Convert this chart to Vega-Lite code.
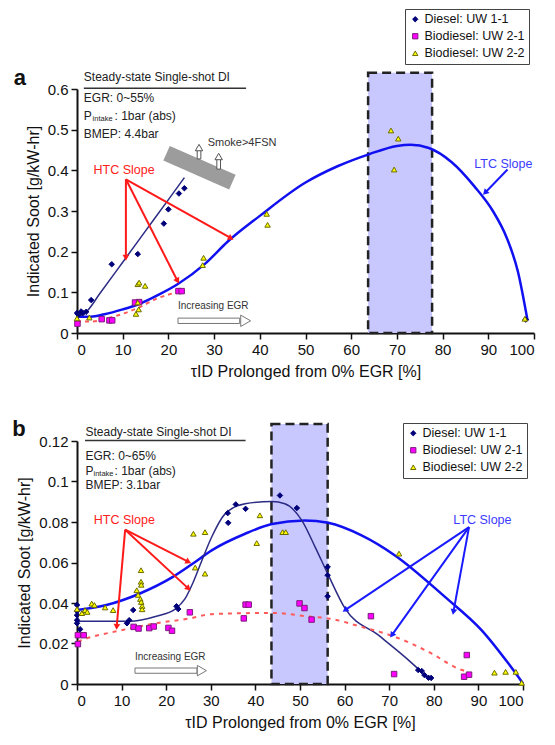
{
  "$schema": "https://vega.github.io/schema/vega-lite/v6.json",
  "padding": {"left": 12, "top": 8, "right": 5, "bottom": 3},
  "config": {
    "font": "Liberation Sans",
    "view": {"stroke": null},
    "axis": {"grid": false, "domainColor": "#111", "domainWidth": 2, "tickColor": "#111", "tickWidth": 1.5, "tickSize": 6, "labelFontSize": 15, "labelColor": "#111", "labelPadding": 3, "titleFontSize": 16, "titleFontWeight": "normal", "titleColor": "#111", "titlePadding": 6},
    "legend": {"title": null, "strokeColor": "#444", "fillColor": "white", "padding": 4, "labelFontSize": 12.5, "labelColor": "#111", "symbolSize": 28, "rowPadding": 4, "labelOffset": 3, "symbolStrokeWidth": 1}
  },
  "datasets": {
    "shadeA": [{"xa": 63.7, "xb": 77.7, "ya": 0, "yb": 0.64}],
    "shadeB": [{"xa": 43.6, "xb": 56.2, "ya": 0, "yb": 0.1284}],
    "bandA": [{"x0": 19.6, "y0": 0.442, "x1": 34.0, "y1": 0.371}],
    "upA": [
      {"xa": 26.3, "xb": 27.1, "ya": 0.428, "yb": 0.452, "xh": 26.7, "yh": 0.456},
      {"xa": 30.6, "xb": 31.4, "ya": 0.403, "yb": 0.430, "xh": 31.0, "yh": 0.434}
    ],
    "curvesA": [
      {"c": "ltc", "x": 0, "y": 0.04}, {"c": "ltc", "x": 3, "y": 0.04}, {"c": "ltc", "x": 6, "y": 0.046}, {"c": "ltc", "x": 10, "y": 0.058}, {"c": "ltc", "x": 13.3, "y": 0.07}, {"c": "ltc", "x": 18, "y": 0.095}, {"c": "ltc", "x": 22, "y": 0.12}, {"c": "ltc", "x": 28, "y": 0.17}, {"c": "ltc", "x": 33, "y": 0.225}, {"c": "ltc", "x": 40, "y": 0.288}, {"c": "ltc", "x": 50, "y": 0.37}, {"c": "ltc", "x": 57, "y": 0.41}, {"c": "ltc", "x": 64, "y": 0.44}, {"c": "ltc", "x": 70, "y": 0.46}, {"c": "ltc", "x": 73, "y": 0.463}, {"c": "ltc", "x": 77, "y": 0.455}, {"c": "ltc", "x": 82, "y": 0.42}, {"c": "ltc", "x": 87, "y": 0.36}, {"c": "ltc", "x": 91, "y": 0.3}, {"c": "ltc", "x": 94, "y": 0.235}, {"c": "ltc", "x": 96.5, "y": 0.15}, {"c": "ltc", "x": 98.6, "y": 0.03},
      {"c": "diesel", "x": 0, "y": 0.04}, {"c": "diesel", "x": 1, "y": 0.044}, {"c": "diesel", "x": 2.2, "y": 0.054}, {"c": "diesel", "x": 5, "y": 0.097}, {"c": "diesel", "x": 10, "y": 0.174}, {"c": "diesel", "x": 15, "y": 0.251}, {"c": "diesel", "x": 20, "y": 0.328}, {"c": "diesel", "x": 23.5, "y": 0.382},
      {"c": "bio", "x": 0, "y": 0.03}, {"c": "bio", "x": 3, "y": 0.028}, {"c": "bio", "x": 7, "y": 0.037}, {"c": "bio", "x": 13, "y": 0.06}, {"c": "bio", "x": 18, "y": 0.087}, {"c": "bio", "x": 23, "y": 0.103}
    ],
    "ptsA": [
      {"s": "Diesel: UW 1-1", "x": 0, "y": 0.049}, {"s": "Diesel: UW 1-1", "x": 0.3, "y": 0.045}, {"s": "Diesel: UW 1-1", "x": 0.9, "y": 0.053}, {"s": "Diesel: UW 1-1", "x": 1.3, "y": 0.049}, {"s": "Diesel: UW 1-1", "x": 2.0, "y": 0.052}, {"s": "Diesel: UW 1-1", "x": 3.1, "y": 0.081}, {"s": "Diesel: UW 1-1", "x": 7.6, "y": 0.169}, {"s": "Diesel: UW 1-1", "x": 13.3, "y": 0.194}, {"s": "Diesel: UW 1-1", "x": 19.0, "y": 0.269}, {"s": "Diesel: UW 1-1", "x": 20.0, "y": 0.304}, {"s": "Diesel: UW 1-1", "x": 22.3, "y": 0.343}, {"s": "Diesel: UW 1-1", "x": 23.5, "y": 0.356}, {"s": "Diesel: UW 1-1", "x": 98.2, "y": 0.033},
      {"s": "Biodiesel: UW 2-1", "x": 0.1, "y": 0.023}, {"s": "Biodiesel: UW 2-1", "x": 5.4, "y": 0.034}, {"s": "Biodiesel: UW 2-1", "x": 7.1, "y": 0.031}, {"s": "Biodiesel: UW 2-1", "x": 7.7, "y": 0.031}, {"s": "Biodiesel: UW 2-1", "x": 12.7, "y": 0.075}, {"s": "Biodiesel: UW 2-1", "x": 13.6, "y": 0.076}, {"s": "Biodiesel: UW 2-1", "x": 22.2, "y": 0.103}, {"s": "Biodiesel: UW 2-1", "x": 22.9, "y": 0.103},
      {"s": "Biodiesel: UW 2-2", "x": 0, "y": 0.036}, {"s": "Biodiesel: UW 2-2", "x": 2.7, "y": 0.038}, {"s": "Biodiesel: UW 2-2", "x": 13.3, "y": 0.12}, {"s": "Biodiesel: UW 2-2", "x": 13.6, "y": 0.124}, {"s": "Biodiesel: UW 2-2", "x": 14.9, "y": 0.116}, {"s": "Biodiesel: UW 2-2", "x": 13.3, "y": 0.075}, {"s": "Biodiesel: UW 2-2", "x": 13.5, "y": 0.058}, {"s": "Biodiesel: UW 2-2", "x": 12.9, "y": 0.047}, {"s": "Biodiesel: UW 2-2", "x": 27.7, "y": 0.185}, {"s": "Biodiesel: UW 2-2", "x": 27.5, "y": 0.167}, {"s": "Biodiesel: UW 2-2", "x": 41.5, "y": 0.293}, {"s": "Biodiesel: UW 2-2", "x": 41.7, "y": 0.266}, {"s": "Biodiesel: UW 2-2", "x": 68.7, "y": 0.498}, {"s": "Biodiesel: UW 2-2", "x": 70.3, "y": 0.478}, {"s": "Biodiesel: UW 2-2", "x": 69.4, "y": 0.402}, {"s": "Biodiesel: UW 2-2", "x": 98.0, "y": 0.035}
    ],
    "arrA": [
      {"x0": 10.7, "y0": 0.378, "x1": 10.7, "y1": 0.185, "k": "HTC"},
      {"x0": 10.7, "y0": 0.378, "x1": 22.0, "y1": 0.128, "k": "HTC"},
      {"x0": 10.7, "y0": 0.378, "x1": 33.7, "y1": 0.233, "k": "HTC"},
      {"x0": 94.2, "y0": 0.402, "x1": 89.3, "y1": 0.345, "k": "LTC"}
    ],
    "hollowA": [{"xa": 22.1, "xb": 35.6, "ya": 0.0234, "yb": 0.0366, "xh": 36.9, "yh": 0.03}],
    "lineA": [{"x0": 1.5, "x1": 37.0, "y0": 0.602, "y1": 0.602}],
    "txtA": [
      {"k": "info", "x": 1.5, "y": 0.629, "t": "Steady-state Single-shot DI"},
      {"k": "info", "x": 1.5, "y": 0.578, "t": "EGR: 0~55%"},
      {"k": "info", "x": 1.5, "y": 0.534, "t": "P"},
      {"k": "info", "x": 8.2, "y": 0.534, "t": ": 1bar (abs)"},
      {"k": "info", "x": 1.5, "y": 0.489, "t": "BMEP: 4.4bar"},
      {"k": "sub", "x": 3.4, "y": 0.526, "t": "intake"},
      {"k": "smoke", "x": 28.6, "y": 0.467, "t": "Smoke>4FSN"},
      {"k": "small", "x": 22.1, "y": 0.066, "t": "Increasing EGR"},
      {"k": "HTC", "x": 10.3, "y": 0.402, "t": "HTC Slope"},
      {"k": "LTC", "x": 93.3, "y": 0.415, "t": "LTC Slope"},
      {"k": "letter", "x": -12.5, "y": 0.627, "t": "a"}
    ],
    "curvesB": [
      {"c": "ltc", "x": 0, "y": 0.0365}, {"c": "ltc", "x": 6.6, "y": 0.039}, {"c": "ltc", "x": 14.1, "y": 0.0447}, {"c": "ltc", "x": 21.5, "y": 0.0529}, {"c": "ltc", "x": 26, "y": 0.0595}, {"c": "ltc", "x": 30.2, "y": 0.066}, {"c": "ltc", "x": 37.7, "y": 0.0742}, {"c": "ltc", "x": 43.7, "y": 0.079}, {"c": "ltc", "x": 51, "y": 0.0808}, {"c": "ltc", "x": 56.3, "y": 0.0796}, {"c": "ltc", "x": 63.8, "y": 0.0734}, {"c": "ltc", "x": 71.3, "y": 0.0635}, {"c": "ltc", "x": 82.5, "y": 0.043}, {"c": "ltc", "x": 90.7, "y": 0.0266}, {"c": "ltc", "x": 96.7, "y": 0.0102}, {"c": "ltc", "x": 100, "y": 0.0003},
      {"c": "diesel", "x": 0, "y": 0.031}, {"c": "diesel", "x": 6, "y": 0.031}, {"c": "diesel", "x": 11.8, "y": 0.031}, {"c": "diesel", "x": 17.8, "y": 0.0335}, {"c": "diesel", "x": 22, "y": 0.037}, {"c": "diesel", "x": 24.2, "y": 0.042}, {"c": "diesel", "x": 26, "y": 0.05}, {"c": "diesel", "x": 28, "y": 0.061}, {"c": "diesel", "x": 30.2, "y": 0.0726}, {"c": "diesel", "x": 33.2, "y": 0.084}, {"c": "diesel", "x": 37.7, "y": 0.089}, {"c": "diesel", "x": 43.7, "y": 0.0901}, {"c": "diesel", "x": 46.6, "y": 0.089}, {"c": "diesel", "x": 50.4, "y": 0.0808}, {"c": "diesel", "x": 53.4, "y": 0.0676}, {"c": "diesel", "x": 56.2, "y": 0.0545}, {"c": "diesel", "x": 60.1, "y": 0.0373}, {"c": "diesel", "x": 67.6, "y": 0.0241}, {"c": "diesel", "x": 73.5, "y": 0.0134}, {"c": "diesel", "x": 78.8, "y": 0.0028},
      {"c": "bio", "x": 0.2, "y": 0.021}, {"c": "bio", "x": 2.1, "y": 0.0225}, {"c": "bio", "x": 8.8, "y": 0.026}, {"c": "bio", "x": 17.8, "y": 0.03}, {"c": "bio", "x": 25.3, "y": 0.0324}, {"c": "bio", "x": 30.2, "y": 0.0345}, {"c": "bio", "x": 43.7, "y": 0.0351}, {"c": "bio", "x": 52.6, "y": 0.0332}, {"c": "bio", "x": 56.4, "y": 0.0324}, {"c": "bio", "x": 63.8, "y": 0.0282}, {"c": "bio", "x": 71.3, "y": 0.0233}, {"c": "bio", "x": 78.8, "y": 0.0159}, {"c": "bio", "x": 86.3, "y": 0.0069}, {"c": "bio", "x": 87.8, "y": 0.006}
    ],
    "ptsB": [
      {"s": "Diesel: UW 1-1", "x": 0, "y": 0.039}, {"s": "Diesel: UW 1-1", "x": 0, "y": 0.036}, {"s": "Diesel: UW 1-1", "x": 0, "y": 0.034}, {"s": "Diesel: UW 1-1", "x": 0, "y": 0.0315}, {"s": "Diesel: UW 1-1", "x": 0, "y": 0.03}, {"s": "Diesel: UW 1-1", "x": 0.7, "y": 0.027}, {"s": "Diesel: UW 1-1", "x": 11.2, "y": 0.03}, {"s": "Diesel: UW 1-1", "x": 11.7, "y": 0.0315}, {"s": "Diesel: UW 1-1", "x": 12.6, "y": 0.0365}, {"s": "Diesel: UW 1-1", "x": 22.3, "y": 0.0384}, {"s": "Diesel: UW 1-1", "x": 22.7, "y": 0.037}, {"s": "Diesel: UW 1-1", "x": 33.8, "y": 0.0844}, {"s": "Diesel: UW 1-1", "x": 33.9, "y": 0.0796}, {"s": "Diesel: UW 1-1", "x": 35.6, "y": 0.0887}, {"s": "Diesel: UW 1-1", "x": 37.8, "y": 0.0865}, {"s": "Diesel: UW 1-1", "x": 45.5, "y": 0.0931}, {"s": "Diesel: UW 1-1", "x": 49.3, "y": 0.0869}, {"s": "Diesel: UW 1-1", "x": 56.2, "y": 0.0578}, {"s": "Diesel: UW 1-1", "x": 56.2, "y": 0.0537}, {"s": "Diesel: UW 1-1", "x": 56.2, "y": 0.0433}, {"s": "Diesel: UW 1-1", "x": 76.5, "y": 0.0069}, {"s": "Diesel: UW 1-1", "x": 77.3, "y": 0.0064}, {"s": "Diesel: UW 1-1", "x": 77.9, "y": 0.0044}, {"s": "Diesel: UW 1-1", "x": 78.8, "y": 0.0031}, {"s": "Diesel: UW 1-1", "x": 79.4, "y": 0.003},
      {"s": "Biodiesel: UW 2-1", "x": 0.2, "y": 0.0241}, {"s": "Biodiesel: UW 2-1", "x": 1.5, "y": 0.0241}, {"s": "Biodiesel: UW 2-1", "x": 0.2, "y": 0.0197}, {"s": "Biodiesel: UW 2-1", "x": 12.7, "y": 0.0282}, {"s": "Biodiesel: UW 2-1", "x": 13.8, "y": 0.0274}, {"s": "Biodiesel: UW 2-1", "x": 16.2, "y": 0.0276}, {"s": "Biodiesel: UW 2-1", "x": 17.2, "y": 0.0284}, {"s": "Biodiesel: UW 2-1", "x": 20.5, "y": 0.0277}, {"s": "Biodiesel: UW 2-1", "x": 21.3, "y": 0.0263}, {"s": "Biodiesel: UW 2-1", "x": 25.3, "y": 0.0354}, {"s": "Biodiesel: UW 2-1", "x": 37.4, "y": 0.0324}, {"s": "Biodiesel: UW 2-1", "x": 37.8, "y": 0.0392}, {"s": "Biodiesel: UW 2-1", "x": 38.5, "y": 0.0392}, {"s": "Biodiesel: UW 2-1", "x": 49.9, "y": 0.0398}, {"s": "Biodiesel: UW 2-1", "x": 51.0, "y": 0.0375}, {"s": "Biodiesel: UW 2-1", "x": 52.6, "y": 0.0318}, {"s": "Biodiesel: UW 2-1", "x": 65.9, "y": 0.0335}, {"s": "Biodiesel: UW 2-1", "x": 71.1, "y": 0.0049}, {"s": "Biodiesel: UW 2-1", "x": 86.8, "y": 0.0036}, {"s": "Biodiesel: UW 2-1", "x": 87.4, "y": 0.0143}, {"s": "Biodiesel: UW 2-1", "x": 87.9, "y": 0.0046},
      {"s": "Biodiesel: UW 2-2", "x": 0, "y": 0.037}, {"s": "Biodiesel: UW 2-2", "x": 1.1, "y": 0.035}, {"s": "Biodiesel: UW 2-2", "x": 1.8, "y": 0.0365}, {"s": "Biodiesel: UW 2-2", "x": 2.3, "y": 0.0356}, {"s": "Biodiesel: UW 2-2", "x": 3.3, "y": 0.0397}, {"s": "Biodiesel: UW 2-2", "x": 3.9, "y": 0.039}, {"s": "Biodiesel: UW 2-2", "x": 6.3, "y": 0.0378}, {"s": "Biodiesel: UW 2-2", "x": 8.1, "y": 0.0365}, {"s": "Biodiesel: UW 2-2", "x": 14.35, "y": 0.0562}, {"s": "Biodiesel: UW 2-2", "x": 14.35, "y": 0.0505}, {"s": "Biodiesel: UW 2-2", "x": 14.4, "y": 0.049}, {"s": "Biodiesel: UW 2-2", "x": 13.4, "y": 0.0463}, {"s": "Biodiesel: UW 2-2", "x": 13.7, "y": 0.044}, {"s": "Biodiesel: UW 2-2", "x": 14.2, "y": 0.042}, {"s": "Biodiesel: UW 2-2", "x": 14.4, "y": 0.0405}, {"s": "Biodiesel: UW 2-2", "x": 14.6, "y": 0.0385}, {"s": "Biodiesel: UW 2-2", "x": 14.6, "y": 0.0369}, {"s": "Biodiesel: UW 2-2", "x": 26.1, "y": 0.0742}, {"s": "Biodiesel: UW 2-2", "x": 28.7, "y": 0.075}, {"s": "Biodiesel: UW 2-2", "x": 26.5, "y": 0.0575}, {"s": "Biodiesel: UW 2-2", "x": 28.7, "y": 0.0545}, {"s": "Biodiesel: UW 2-2", "x": 40.3, "y": 0.0696}, {"s": "Biodiesel: UW 2-2", "x": 41.0, "y": 0.0833}, {"s": "Biodiesel: UW 2-2", "x": 46.1, "y": 0.075}, {"s": "Biodiesel: UW 2-2", "x": 46.8, "y": 0.075}, {"s": "Biodiesel: UW 2-2", "x": 72.2, "y": 0.0644}, {"s": "Biodiesel: UW 2-2", "x": 93.6, "y": 0.0056}, {"s": "Biodiesel: UW 2-2", "x": 96.1, "y": 0.006}, {"s": "Biodiesel: UW 2-2", "x": 98.4, "y": 0.006}, {"s": "Biodiesel: UW 2-2", "x": 99.7, "y": 0.0006}
    ],
    "arrB": [
      {"x0": 10.8, "y0": 0.0762, "x1": 8.9, "y1": 0.0282, "k": "HTC"},
      {"x0": 10.8, "y0": 0.0762, "x1": 25.0, "y1": 0.0603, "k": "HTC"},
      {"x0": 10.8, "y0": 0.0762, "x1": 25.0, "y1": 0.0471, "k": "HTC"},
      {"x0": 87.9, "y0": 0.0775, "x1": 60.1, "y1": 0.0365, "k": "LTC"},
      {"x0": 87.9, "y0": 0.0775, "x1": 70.6, "y1": 0.0241, "k": "LTC"},
      {"x0": 87.9, "y0": 0.0775, "x1": 84.4, "y1": 0.0356, "k": "LTC"}
    ],
    "hollowB": [{"xa": 13.0, "xb": 26.9, "ya": 0.0053, "yb": 0.0079, "xh": 28.0, "yh": 0.0066}],
    "lineB": [{"x0": 1.8, "x1": 37.8, "y0": 0.1202, "y1": 0.1202}],
    "txtB": [
      {"k": "info", "x": 1.9, "y": 0.1243, "t": "Steady-state Single-shot DI"},
      {"k": "info", "x": 1.9, "y": 0.1128, "t": "EGR: 0~65%"},
      {"k": "info", "x": 1.9, "y": 0.1054, "t": "P"},
      {"k": "info", "x": 8.4, "y": 0.1054, "t": ": 1bar (abs)"},
      {"k": "info", "x": 1.9, "y": 0.0985, "t": "BMEP: 3.1bar"},
      {"k": "sub", "x": 3.7, "y": 0.1038, "t": "intake"},
      {"k": "small", "x": 13.0, "y": 0.0135, "t": "Increasing EGR"},
      {"k": "HTC", "x": 10.6, "y": 0.0808, "t": "HTC Slope"},
      {"k": "LTC", "x": 90.9, "y": 0.0808, "t": "LTC Slope"},
      {"k": "letter", "x": -13, "y": 0.126, "t": "b"}
    ]
  },
  "spacing": 38,
  "resolve": {
    "scale": {"shape": "independent", "fill": "independent", "stroke": "independent", "color": "independent"},
    "legend": {"shape": "independent", "fill": "independent", "stroke": "independent"}
  },
  "vconcat": [
    {
      "width": 457,
      "height": 244,
      "layer": [
        {
          "data": {"name": "shadeA"},
          "mark": {"type": "rect", "fill": "#C8C8FF", "stroke": "#222", "strokeWidth": 2.5, "strokeDash": [9, 5]},
          "encoding": {
            "x": {"field": "xa", "type": "quantitative", "scale": {"domain": [0, 100], "nice": false}, "axis": {"values": [0, 10, 20, 30, 40, 50, 60, 70, 80, 90, 100], "title": "τID Prolonged from 0% EGR [%]"}},
            "x2": {"field": "xb"},
            "y": {"field": "ya", "type": "quantitative", "scale": {"domain": [0, 0.6], "nice": false}, "axis": {"values": [0, 0.1, 0.2, 0.3, 0.4, 0.5, 0.6], "format": ".1~f", "title": "Indicated Soot [g/kW-hr]"}},
            "y2": {"field": "yb"}
          }
        },
        {
          "data": {"name": "bandA"},
          "mark": {"type": "rule", "strokeWidth": 16, "color": "#9C9C9C", "strokeCap": "butt"},
          "encoding": {"x": {"field": "x0", "type": "quantitative"}, "y": {"field": "y0", "type": "quantitative"}, "x2": {"field": "x1"}, "y2": {"field": "y1"}}
        },
        {
          "data": {"name": "upA"},
          "mark": {"type": "rect", "fill": "white", "stroke": "#555", "strokeWidth": 1},
          "encoding": {"x": {"field": "xa", "type": "quantitative"}, "x2": {"field": "xb"}, "y": {"field": "ya", "type": "quantitative"}, "y2": {"field": "yb"}}
        },
        {
          "data": {"name": "upA"},
          "mark": {"type": "point", "shape": "triangle-up", "filled": false, "fill": "white", "fillOpacity": 1, "stroke": "#555", "strokeWidth": 1, "size": 55, "opacity": 1},
          "encoding": {"x": {"field": "xh", "type": "quantitative"}, "y": {"field": "yh", "type": "quantitative"}}
        },
        {
          "data": {"name": "curvesA"},
          "transform": [{"filter": "datum.c === 'ltc'"}],
          "mark": {"type": "line", "color": "#1010F0", "strokeWidth": 2.5, "interpolate": "monotone"},
          "encoding": {"x": {"field": "x", "type": "quantitative"}, "y": {"field": "y", "type": "quantitative"}}
        },
        {
          "data": {"name": "curvesA"},
          "transform": [{"filter": "datum.c === 'diesel'"}],
          "mark": {"type": "line", "color": "#2B2B85", "strokeWidth": 1.5, "interpolate": "monotone"},
          "encoding": {"x": {"field": "x", "type": "quantitative"}, "y": {"field": "y", "type": "quantitative"}}
        },
        {
          "data": {"name": "curvesA"},
          "transform": [{"filter": "datum.c === 'bio'"}],
          "mark": {"type": "line", "color": "#FF5A5A", "strokeWidth": 2, "strokeDash": [4, 4], "interpolate": "monotone"},
          "encoding": {"x": {"field": "x", "type": "quantitative"}, "y": {"field": "y", "type": "quantitative"}}
        },
        {
          "data": {"name": "ptsA"},
          "mark": {"type": "point", "filled": true, "size": 30, "strokeWidth": 1, "opacity": 1},
          "encoding": {
            "x": {"field": "x", "type": "quantitative"},
            "y": {"field": "y", "type": "quantitative"},
            "shape": {"field": "s", "type": "nominal", "scale": {"domain": ["Diesel: UW 1-1", "Biodiesel: UW 2-1", "Biodiesel: UW 2-2"], "range": ["diamond", "square", "triangle-up"]}, "legend": {"orient": "none", "legendX": 328, "legendY": -80}},
            "fill": {"field": "s", "type": "nominal", "scale": {"domain": ["Diesel: UW 1-1", "Biodiesel: UW 2-1", "Biodiesel: UW 2-2"], "range": ["#00007A", "#FF00FF", "#FFFF00"]}, "legend": {"orient": "none", "legendX": 328, "legendY": -80}},
            "stroke": {"field": "s", "type": "nominal", "scale": {"domain": ["Diesel: UW 1-1", "Biodiesel: UW 2-1", "Biodiesel: UW 2-2"], "range": ["#00007A", "#7A1F7A", "#6B6B00"]}, "legend": {"orient": "none", "legendX": 328, "legendY": -80}}
          }
        },
        {
          "data": {"name": "arrA"},
          "mark": {"type": "rule", "strokeWidth": 2},
          "encoding": {
            "x": {"field": "x0", "type": "quantitative"}, "y": {"field": "y0", "type": "quantitative"}, "x2": {"field": "x1"}, "y2": {"field": "y1"},
            "color": {"field": "k", "type": "nominal", "scale": {"domain": ["HTC", "LTC"], "range": ["#FF1A1A", "#1A1AFF"]}, "legend": null}
          }
        },
        {
          "data": {"name": "arrA"},
          "transform": [{"calculate": "atan2((datum.x1-datum.x0)*4.57,(datum.y1-datum.y0)*406.7)*180/PI", "as": "ang"}],
          "mark": {"type": "point", "shape": "triangle-up", "filled": true, "size": 45, "opacity": 1},
          "encoding": {
            "x": {"field": "x1", "type": "quantitative"}, "y": {"field": "y1", "type": "quantitative"},
            "angle": {"field": "ang", "type": "quantitative", "scale": null},
            "color": {"field": "k", "type": "nominal", "scale": {"domain": ["HTC", "LTC"], "range": ["#FF1A1A", "#1A1AFF"]}, "legend": null}
          }
        },
        {
          "data": {"name": "hollowA"},
          "mark": {"type": "rect", "fill": "white", "stroke": "#777", "strokeWidth": 1},
          "encoding": {"x": {"field": "xa", "type": "quantitative"}, "x2": {"field": "xb"}, "y": {"field": "ya", "type": "quantitative"}, "y2": {"field": "yb"}}
        },
        {
          "data": {"name": "hollowA"},
          "mark": {"type": "point", "shape": "triangle-right", "filled": false, "fill": "white", "fillOpacity": 1, "stroke": "#777", "strokeWidth": 1, "size": 130, "opacity": 1},
          "encoding": {"x": {"field": "xh", "type": "quantitative"}, "y": {"field": "yh", "type": "quantitative"}}
        },
        {
          "data": {"name": "lineA"},
          "mark": {"type": "rule", "strokeWidth": 1.5, "color": "#333"},
          "encoding": {"x": {"field": "x0", "type": "quantitative"}, "y": {"field": "y0", "type": "quantitative"}, "x2": {"field": "x1"}, "y2": {"field": "y1"}}
        },
        {
          "data": {"name": "txtA"},
          "transform": [{"filter": "datum.k === 'info'"}],
          "mark": {"type": "text", "align": "left", "baseline": "middle", "fontSize": 12, "color": "#222"},
          "encoding": {"x": {"field": "x", "type": "quantitative"}, "y": {"field": "y", "type": "quantitative"}, "text": {"field": "t"}}
        },
        {
          "data": {"name": "txtA"},
          "transform": [{"filter": "datum.k === 'sub'"}],
          "mark": {"type": "text", "align": "left", "baseline": "middle", "fontSize": 7.5, "color": "#222"},
          "encoding": {"x": {"field": "x", "type": "quantitative"}, "y": {"field": "y", "type": "quantitative"}, "text": {"field": "t"}}
        },
        {
          "data": {"name": "txtA"},
          "transform": [{"filter": "datum.k === 'small'"}],
          "mark": {"type": "text", "align": "left", "baseline": "middle", "fontSize": 10, "color": "#333"},
          "encoding": {"x": {"field": "x", "type": "quantitative"}, "y": {"field": "y", "type": "quantitative"}, "text": {"field": "t"}}
        },
        {
          "data": {"name": "txtA"},
          "transform": [{"filter": "datum.k === 'smoke'"}],
          "mark": {"type": "text", "align": "left", "baseline": "middle", "fontSize": 11, "color": "#333"},
          "encoding": {"x": {"field": "x", "type": "quantitative"}, "y": {"field": "y", "type": "quantitative"}, "text": {"field": "t"}}
        },
        {
          "data": {"name": "txtA"},
          "transform": [{"filter": "datum.k === 'HTC'"}],
          "mark": {"type": "text", "align": "center", "baseline": "middle", "fontSize": 12.5, "color": "#FF2020"},
          "encoding": {"x": {"field": "x", "type": "quantitative"}, "y": {"field": "y", "type": "quantitative"}, "text": {"field": "t"}}
        },
        {
          "data": {"name": "txtA"},
          "transform": [{"filter": "datum.k === 'LTC'"}],
          "mark": {"type": "text", "align": "center", "baseline": "middle", "fontSize": 12.5, "color": "#3B3BFF"},
          "encoding": {"x": {"field": "x", "type": "quantitative"}, "y": {"field": "y", "type": "quantitative"}, "text": {"field": "t"}}
        },
        {
          "data": {"name": "txtA"},
          "transform": [{"filter": "datum.k === 'letter'"}],
          "mark": {"type": "text", "align": "center", "baseline": "middle", "fontSize": 22, "fontWeight": "bold", "color": "#111"},
          "encoding": {"x": {"field": "x", "type": "quantitative"}, "y": {"field": "y", "type": "quantitative"}, "text": {"field": "t"}}
        }
      ]
    },
    {
      "width": 446,
      "height": 243,
      "layer": [
        {
          "data": {"name": "shadeB"},
          "mark": {"type": "rect", "fill": "#C8C8FF", "stroke": "#222", "strokeWidth": 2.5, "strokeDash": [9, 5]},
          "encoding": {
            "x": {"field": "xa", "type": "quantitative", "scale": {"domain": [0, 100], "nice": false}, "axis": {"values": [0, 10, 20, 30, 40, 50, 60, 70, 80, 90, 100], "title": "τID Prolonged from 0% EGR [%]"}},
            "x2": {"field": "xb"},
            "y": {"field": "ya", "type": "quantitative", "scale": {"domain": [0, 0.12], "nice": false}, "axis": {"values": [0, 0.02, 0.04, 0.06, 0.08, 0.1, 0.12], "format": ".2~f", "title": "Indicated Soot [g/kW-hr]"}},
            "y2": {"field": "yb"}
          }
        },
        {
          "data": {"name": "curvesB"},
          "transform": [{"filter": "datum.c === 'ltc'"}],
          "mark": {"type": "line", "color": "#1010F0", "strokeWidth": 2.5, "interpolate": "monotone"},
          "encoding": {"x": {"field": "x", "type": "quantitative"}, "y": {"field": "y", "type": "quantitative"}}
        },
        {
          "data": {"name": "curvesB"},
          "transform": [{"filter": "datum.c === 'diesel'"}],
          "mark": {"type": "line", "color": "#2B2B85", "strokeWidth": 1.5, "interpolate": "monotone"},
          "encoding": {"x": {"field": "x", "type": "quantitative"}, "y": {"field": "y", "type": "quantitative"}}
        },
        {
          "data": {"name": "curvesB"},
          "transform": [{"filter": "datum.c === 'bio'"}],
          "mark": {"type": "line", "color": "#FF5A5A", "strokeWidth": 2, "strokeDash": [4, 5], "interpolate": "monotone"},
          "encoding": {"x": {"field": "x", "type": "quantitative"}, "y": {"field": "y", "type": "quantitative"}}
        },
        {
          "data": {"name": "ptsB"},
          "mark": {"type": "point", "filled": true, "size": 30, "strokeWidth": 1, "opacity": 1},
          "encoding": {
            "x": {"field": "x", "type": "quantitative"},
            "y": {"field": "y", "type": "quantitative"},
            "shape": {"field": "s", "type": "nominal", "scale": {"domain": ["Diesel: UW 1-1", "Biodiesel: UW 2-1", "Biodiesel: UW 2-2"], "range": ["diamond", "square", "triangle-up"]}, "legend": {"orient": "none", "legendX": 326, "legendY": -18}},
            "fill": {"field": "s", "type": "nominal", "scale": {"domain": ["Diesel: UW 1-1", "Biodiesel: UW 2-1", "Biodiesel: UW 2-2"], "range": ["#00007A", "#FF00FF", "#FFFF00"]}, "legend": {"orient": "none", "legendX": 326, "legendY": -18}},
            "stroke": {"field": "s", "type": "nominal", "scale": {"domain": ["Diesel: UW 1-1", "Biodiesel: UW 2-1", "Biodiesel: UW 2-2"], "range": ["#00007A", "#7A1F7A", "#6B6B00"]}, "legend": {"orient": "none", "legendX": 326, "legendY": -18}}
          }
        },
        {
          "data": {"name": "arrB"},
          "mark": {"type": "rule", "strokeWidth": 2},
          "encoding": {
            "x": {"field": "x0", "type": "quantitative"}, "y": {"field": "y0", "type": "quantitative"}, "x2": {"field": "x1"}, "y2": {"field": "y1"},
            "color": {"field": "k", "type": "nominal", "scale": {"domain": ["HTC", "LTC"], "range": ["#FF1A1A", "#1A1AFF"]}, "legend": null}
          }
        },
        {
          "data": {"name": "arrB"},
          "transform": [{"calculate": "atan2((datum.x1-datum.x0)*4.46,(datum.y1-datum.y0)*2030)*180/PI", "as": "ang"}],
          "mark": {"type": "point", "shape": "triangle-up", "filled": true, "size": 45, "opacity": 1},
          "encoding": {
            "x": {"field": "x1", "type": "quantitative"}, "y": {"field": "y1", "type": "quantitative"},
            "angle": {"field": "ang", "type": "quantitative", "scale": null},
            "color": {"field": "k", "type": "nominal", "scale": {"domain": ["HTC", "LTC"], "range": ["#FF1A1A", "#1A1AFF"]}, "legend": null}
          }
        },
        {
          "data": {"name": "hollowB"},
          "mark": {"type": "rect", "fill": "white", "stroke": "#777", "strokeWidth": 1},
          "encoding": {"x": {"field": "xa", "type": "quantitative"}, "x2": {"field": "xb"}, "y": {"field": "ya", "type": "quantitative"}, "y2": {"field": "yb"}}
        },
        {
          "data": {"name": "hollowB"},
          "mark": {"type": "point", "shape": "triangle-right", "filled": false, "fill": "white", "fillOpacity": 1, "stroke": "#777", "strokeWidth": 1, "size": 110, "opacity": 1},
          "encoding": {"x": {"field": "xh", "type": "quantitative"}, "y": {"field": "yh", "type": "quantitative"}}
        },
        {
          "data": {"name": "lineB"},
          "mark": {"type": "rule", "strokeWidth": 1.5, "color": "#333"},
          "encoding": {"x": {"field": "x0", "type": "quantitative"}, "y": {"field": "y0", "type": "quantitative"}, "x2": {"field": "x1"}, "y2": {"field": "y1"}}
        },
        {
          "data": {"name": "txtB"},
          "transform": [{"filter": "datum.k === 'info'"}],
          "mark": {"type": "text", "align": "left", "baseline": "middle", "fontSize": 12, "color": "#222"},
          "encoding": {"x": {"field": "x", "type": "quantitative"}, "y": {"field": "y", "type": "quantitative"}, "text": {"field": "t"}}
        },
        {
          "data": {"name": "txtB"},
          "transform": [{"filter": "datum.k === 'sub'"}],
          "mark": {"type": "text", "align": "left", "baseline": "middle", "fontSize": 7.5, "color": "#222"},
          "encoding": {"x": {"field": "x", "type": "quantitative"}, "y": {"field": "y", "type": "quantitative"}, "text": {"field": "t"}}
        },
        {
          "data": {"name": "txtB"},
          "transform": [{"filter": "datum.k === 'small'"}],
          "mark": {"type": "text", "align": "left", "baseline": "middle", "fontSize": 10, "color": "#333"},
          "encoding": {"x": {"field": "x", "type": "quantitative"}, "y": {"field": "y", "type": "quantitative"}, "text": {"field": "t"}}
        },
        {
          "data": {"name": "txtB"},
          "transform": [{"filter": "datum.k === 'HTC'"}],
          "mark": {"type": "text", "align": "center", "baseline": "middle", "fontSize": 12.5, "color": "#FF2020"},
          "encoding": {"x": {"field": "x", "type": "quantitative"}, "y": {"field": "y", "type": "quantitative"}, "text": {"field": "t"}}
        },
        {
          "data": {"name": "txtB"},
          "transform": [{"filter": "datum.k === 'LTC'"}],
          "mark": {"type": "text", "align": "center", "baseline": "middle", "fontSize": 12.5, "color": "#3B3BFF"},
          "encoding": {"x": {"field": "x", "type": "quantitative"}, "y": {"field": "y", "type": "quantitative"}, "text": {"field": "t"}}
        },
        {
          "data": {"name": "txtB"},
          "transform": [{"filter": "datum.k === 'letter'"}],
          "mark": {"type": "text", "align": "center", "baseline": "middle", "fontSize": 22, "fontWeight": "bold", "color": "#111"},
          "encoding": {"x": {"field": "x", "type": "quantitative"}, "y": {"field": "y", "type": "quantitative"}, "text": {"field": "t"}}
        }
      ]
    }
  ]
}
